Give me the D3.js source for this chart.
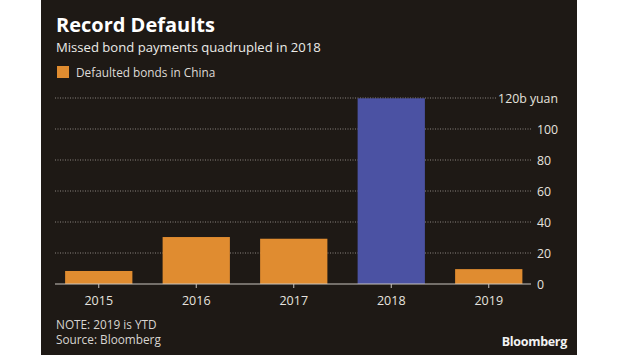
<!DOCTYPE html>
<html><head><meta charset="utf-8">
<script src="https://cdn.jsdelivr.net/npm/d3@7/dist/d3.min.js"></script>
<style>
html,body{margin:0;padding:0;background:#fff;}
svg{display:block;}
text{font-family:"Open Sans","Noto Sans",sans-serif;}
</style></head>
<body>
<svg id="c" width="620" height="355"></svg>
<script>
const categories = ["2015","2016","2017","2018","2019"];
const values = [8.4, 30.3, 29.2, 119.8, 9.6];
const highlight = ["2018"];
const yTicks = [0, 20, 40, 60, 80, 100, 120];
const yTickLabels = ["0","20","40","60","80","100","120b yuan"];

const svg = d3.select("#c");
svg.append("rect").attr("x",41).attr("y",0).attr("width",536).attr("height",355).attr("fill","#1e1915");

const x = d3.scaleBand().domain(categories).range([50,537.5]).paddingInner(0.31).paddingOuter(0.155);
const y = d3.scaleLinear().domain([0,120]).range([284,98]);

// gridlines
const grid = svg.append("g");
yTicks.filter(t=>t>0).forEach(t=>{
  grid.append("line").attr("x1",55).attr("x2", t===120?496:531)
    .attr("y1",y(t)).attr("y2",y(t))
    .attr("stroke","#8a8580").attr("stroke-width",1).attr("stroke-dasharray","1,1.5");
});

// y labels
yTicks.forEach((t,i)=>{
  const last = i===yTicks.length-1;
  svg.append("text").attr("x", last?558:537).attr("y", y(t)+5)
    .attr("text-anchor", last?"end":"start")
    .attr("fill","#e6e3df").attr("font-size",12.3).text(yTickLabels[i]);
});

// bars
svg.append("g").selectAll("rect").data(categories).join("rect")
  .attr("x", d=>x(d)).attr("width", x.bandwidth())
  .attr("y", (d,i)=>y(values[i])).attr("height",(d,i)=>y(0)-y(values[i]))
  .attr("fill", d=>highlight.includes(d)?"#4b52a3":"#e08c30");

// axis
const xAxis = svg.append("g").attr("transform","translate(0,284)");
xAxis.append("line").attr("x1",55).attr("x2",531).attr("stroke","#c9c5c0").attr("stroke-width",1.2);
categories.forEach(c=>{
  const cx = x(c)+x.bandwidth()/2;
  xAxis.append("line").attr("x1",cx).attr("x2",cx).attr("y1",0).attr("y2",4).attr("stroke","#c9c5c0");
  xAxis.append("text").attr("x",cx).attr("y",21).attr("text-anchor","middle")
    .attr("fill","#e6e3df").attr("font-size",12.5).text(c);
});

// titles
svg.append("text").attr("x",56).attr("y",32).attr("fill","#ffffff").attr("font-size",20).attr("font-weight","bold").text("Record Defaults");
svg.append("text").attr("x",56).attr("y",52).attr("fill","#ecebe8").attr("font-size",13.1).text("Missed bond payments quadrupled in 2018");
svg.append("rect").attr("x",57).attr("y",66).attr("width",12).attr("height",12).attr("fill","#e08c30");
svg.append("text").attr("x",76).attr("y",76.5).attr("fill","#dedbd7").attr("font-size",11.8).text("Defaulted bonds in China");

// footnotes
svg.append("text").attr("x",56).attr("y",328.5).attr("fill","#d8d5d1").attr("font-size",11.8).text("NOTE: 2019 is YTD");
svg.append("text").attr("x",56).attr("y",344).attr("fill","#d8d5d1").attr("font-size",11.8).text("Source: Bloomberg");
svg.append("text").attr("x",567).attr("y",346).attr("text-anchor","end").attr("fill","#f2f2f2").attr("font-size",12.5).attr("font-weight","bold").attr("letter-spacing",-0.3).text("Bloomberg");
</script>
</body></html>
